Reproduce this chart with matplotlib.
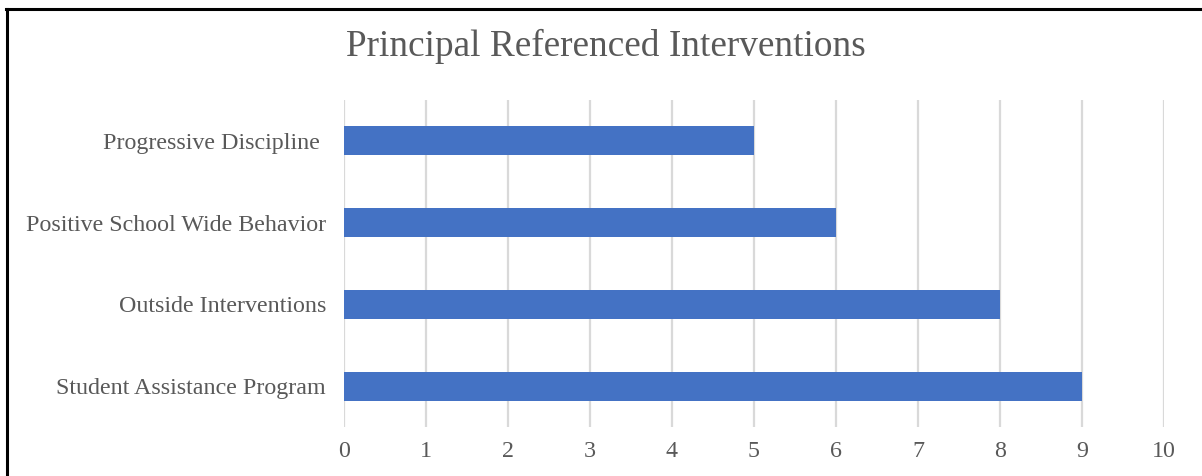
import matplotlib.pyplot as plt
from matplotlib.lines import Line2D

categories = ["Student Assistance Program", "Outside Interventions",
              "Positive School Wide Behavior", "Progressive Discipline "]
counts = [9, 8, 6, 5]
xticks = list(range(0, 11))

plt.rcParams['font.family'] = ['Liberation Serif', 'DejaVu Serif']
text_color = "#595959"

W, H = 1202, 476
fig = plt.figure(figsize=(W / 100, H / 100), dpi=100)
ax = fig.add_axes([344 / W, 1 - 427 / H, 820 / W, 327 / H])

ax.barh(range(len(categories)), counts, height=0.355, color="#4472C4", zorder=3)

ax.set_xlim(0, 10)
ax.set_ylim(-0.5, len(categories) - 0.5)
ax.set_xticks(xticks)
ax.set_yticks(range(len(categories)))
ax.set_yticklabels(categories)
ax.grid(axis="x", color="#D9D9D9", linewidth=1.6, zorder=0)
ax.tick_params(axis="both", length=0, labelsize=17.3, colors=text_color)
ax.tick_params(axis="x", pad=10)
ax.tick_params(axis="y", pad=13)
for s in ax.spines.values():
    s.set_visible(False)

fig.text(606 / W, 1 - 46 / H, "Principal Referenced Interventions",
         ha="center", va="center", fontsize=26.8, color=text_color)

# frame on top and left edges
fig.add_artist(Line2D([7 / W, 7 / W], [0, 1 - 9 / H], color="black", linewidth=2.2))
fig.add_artist(Line2D([6 / W, 1], [1 - 9 / H, 1 - 9 / H], color="black", linewidth=2.2))

fig.savefig("out.png", dpi=100)
